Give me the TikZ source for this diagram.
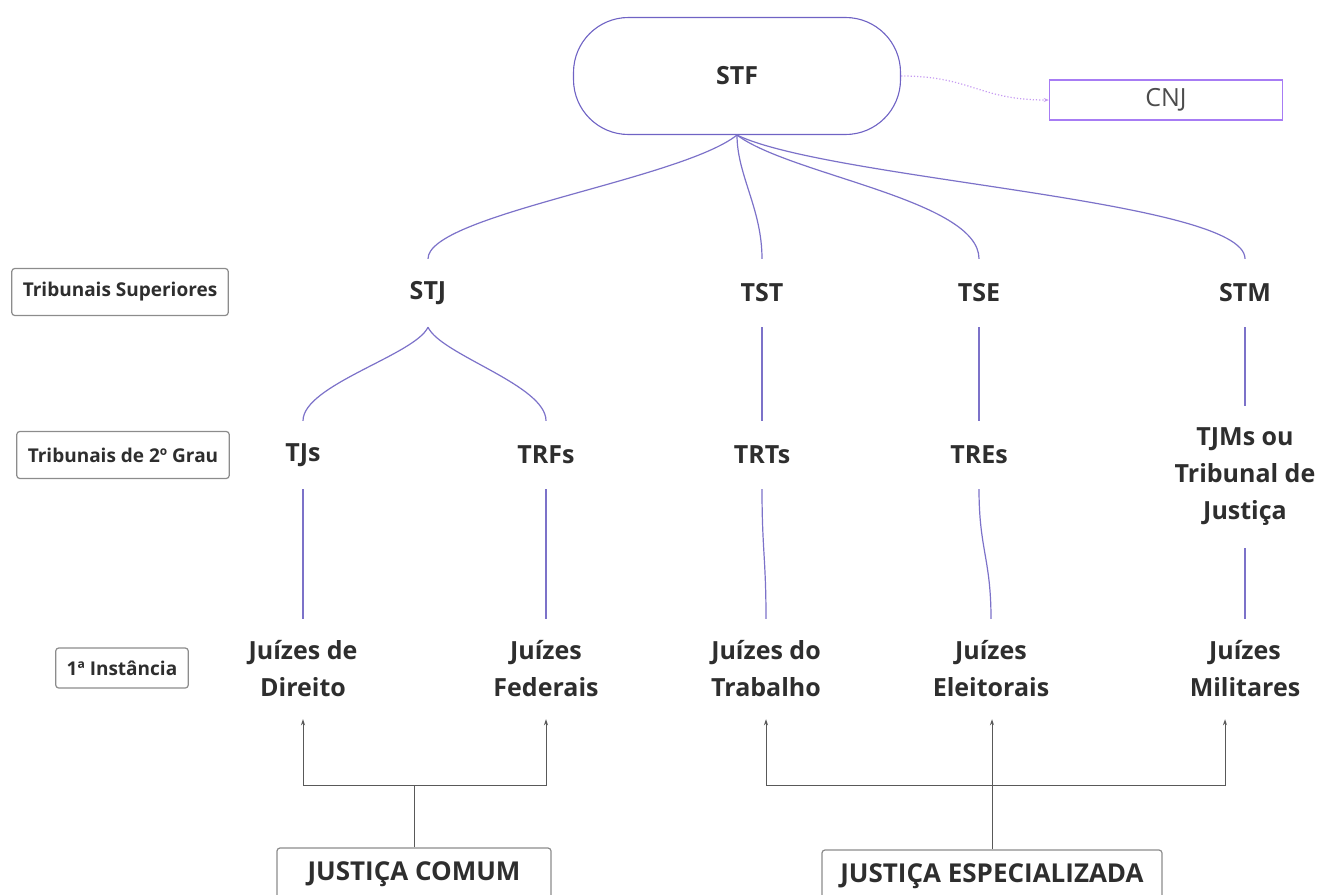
\documentclass[tikz,border=0pt]{standalone}
\usepackage{fontspec}
\setmainfont{Open Sans}
\usetikzlibrary{arrows.meta}

\definecolor{linkviolet}{HTML}{7C72C9}
\definecolor{stfviolet}{HTML}{6F63C4}
\definecolor{cnjviolet}{HTML}{A77CF4}
\definecolor{dotviolet}{HTML}{C69BF2}
\definecolor{boxgray}{HTML}{8C8C8C}
\definecolor{textgray}{HTML}{2E2E2E}

\tikzset{
	court/.style={font=\bfseries\fontsize{25}{37}\selectfont, text=textgray, align=center, minimum height=68pt},
	levelbox/.style={draw=boxgray, line width=1.2pt, rounded corners=3pt, font=\bfseries\fontsize{19}{22}\selectfont, text=textgray, inner xsep=11pt, minimum height=47pt},
	branchbox/.style={draw=boxgray, line width=1.2pt, rounded corners=3pt, font=\bfseries\fontsize{26}{30}\selectfont, text=textgray, minimum height=52pt},
	hier/.style={draw=linkviolet, line width=1.2pt},
	feed/.style={draw=black!65, line width=1pt},
	feedarrow/.style={feed, -{Stealth[length=6pt,width=4pt]}},
}

\begin{document}
\begin{tikzpicture}[x=1pt, y=-1pt]

	\useasboundingbox (0,0) rectangle (1321,894);
	\clip (0,0) rectangle (1321,894);

	%top: STF and CNJ
	\node[draw=stfviolet, line width=1.1pt, rounded corners=55pt, minimum width=327pt, minimum height=117pt, font=\bfseries\fontsize{25}{30}\selectfont, text=textgray] (stf) at (737,76) {STF};
	\node[draw=cnjviolet, line width=1.5pt, minimum width=233pt, minimum height=40pt, font=\fontsize{25}{30}\selectfont, text=black!70] (cnj) at (1166,100) {CNJ};
	\draw[dotviolet, line width=1.2pt, dotted, -{Stealth[length=5pt,width=4pt]}] (stf.east) .. controls +(70,0) and +(-70,0) .. (cnj.west);

	%level labels on the left
	\node[levelbox] (lsup) at (120,292) {Tribunais Superiores};
	\node[levelbox] (lsec) at (123,455) {Tribunais de 2º Grau};
	\node[levelbox, minimum height=40pt] (lfirst) at (122,668) {1ª Instância};

	%tribunais superiores
	\node[court] (stj) at (428,293) {STJ};
	\node[court] (tst) at (762,293) {TST};
	\node[court] (tse) at (979,293) {TSE};
	\node[court] (stm) at (1245,293) {STM};

	%tribunais de 2o grau
	\node[court] (tjs) at (303,455) {TJs};
	\node[court] (trfs) at (546,455) {TRFs};
	\node[court] (trts) at (762,455) {TRTs};
	\node[court] (tres) at (979,455) {TREs};
	\node[court, minimum height=142pt] (tjms) at (1245,477) {TJMs ou\\Tribunal de\\Justiça};

	%1a instancia
	\node[court, minimum height=100pt] (jdir) at (303,669) {Juízes de\\Direito};
	\node[court, minimum height=100pt] (jfed) at (546,669) {Juízes\\Federais};
	\node[court, minimum height=100pt] (jtrab) at (766,669) {Juízes do\\Trabalho};
	\node[court, minimum height=100pt] (jele) at (991,669) {Juízes\\Eleitorais};
	\node[court, minimum height=100pt] (jmil) at (1245,669) {Juízes\\Militares};

	%branches of the judiciary
	\node[branchbox, minimum width=274pt] (comum) at (414,874) {JUSTIÇA COMUM};
	\node[branchbox, minimum width=340pt] (espec) at (992,876) {JUSTIÇA ESPECIALIZADA};

	%hierarchy lines from STF
	\draw[hier] (stf.south) .. controls (680,180) and (428,215) .. (stj.north);
	\draw[hier] (stf.south) .. controls +(0,40) and +(0,-50) .. (tst.north);
	\draw[hier] (stf.south) .. controls (790,175) and (979,200) .. (tse.north);
	\draw[hier] (stf.south) .. controls (830,180) and (1245,200) .. (stm.north);

	%STJ to TJs and TRFs
	\draw[hier] (stj.south) .. controls (415,355) and (303,385) .. (tjs.north);
	\draw[hier] (stj.south) .. controls (441,355) and (546,385) .. (trfs.north);

	%straight chains
	\draw[hier] (tst.south) -- (trts.north);
	\draw[hier] (tse.south) -- (tres.north);
	\draw[hier] (stm.south) -- (tjms.north);
	\draw[hier] (tjs.south) -- (jdir.north);
	\draw[hier] (trfs.south) -- (jfed.north);
	\draw[hier] (trts.south) .. controls +(0,60) and +(0,-60) .. (jtrab.north);
	\draw[hier] (tres.south) .. controls +(0,60) and +(0,-60) .. (jele.north);
	\draw[hier] (tjms.south) -- (jmil.north);

	%justica comum feeds
	\coordinate (comumjoin) at (414,785);
	\draw[feed] (comum.north) -- (comumjoin);
	\draw[feedarrow] (comumjoin) -| (jdir.south);
	\draw[feedarrow] (comumjoin) -| (jfed.south);

	%justica especializada feeds
	\coordinate (especjoin) at (992,785);
	\draw[feedarrow] (espec.north) -- (espec.north |- jele.south);
	\draw[feedarrow] (especjoin) -| (jtrab.south);
	\draw[feedarrow] (especjoin) -| ([xshift=-20pt]jmil.south);

\end{tikzpicture}
\end{document}
